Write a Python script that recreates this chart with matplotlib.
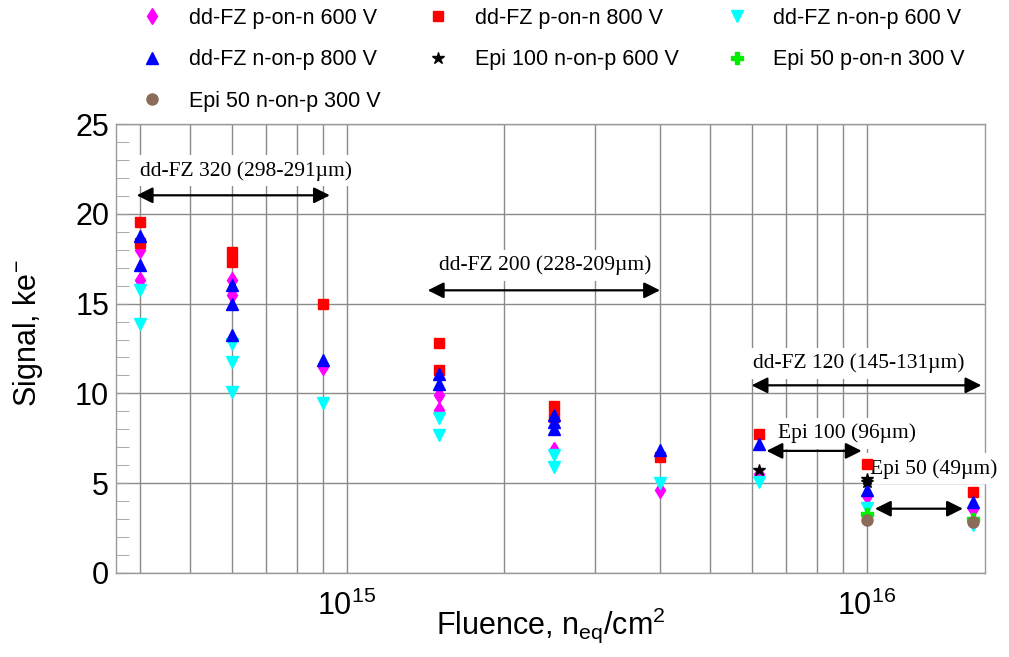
import matplotlib
matplotlib.use("Agg")
import matplotlib.pyplot as plt
from matplotlib.ticker import LogLocator, MultipleLocator, NullFormatter, LogFormatterSciNotation

# ---------------- data ----------------
fz_pn600_x = [4e14, 4e14, 6e14, 6e14, 9e14, 1.5e15, 1.5e15, 2.5e15, 4e15, 6.2e15, 1e16, 1.6e16]
fz_pn600_y = [18.0, 16.33, 16.3, 15.46, 11.47, 9.9, 9.06, 6.87, 4.6, 5.53, 4.27, 3.58]

fz_pn800_x = [4e14, 4e14, 6e14, 6e14, 9e14, 1.5e15, 1.5e15, 2.5e15, 2.5e15, 4e15, 6.2e15, 1e16, 1.6e16]
fz_pn800_y = [19.54, 18.37, 17.87, 17.32, 15.0, 12.83, 11.32, 9.28, 8.7, 6.46, 7.76, 6.09, 4.51]

fz_np600_x = [4e14, 4e14, 6e14, 6e14, 6e14, 9e14, 1.5e15, 1.5e15, 2.5e15, 2.5e15, 4e15, 6.2e15, 1e16, 1.6e16]
fz_np600_y = [15.78, 13.88, 12.77, 11.75, 10.08, 9.45, 8.65, 7.67, 6.55, 5.9, 5.01, 5.07, 3.64, 2.66]

fz_np800_x = [4e14, 4e14, 6e14, 6e14, 6e14, 9e14, 1.5e15, 1.5e15, 2.5e15, 2.5e15, 2.5e15, 4e15, 6.2e15, 1e16, 1.6e16]
fz_np800_y = [18.74, 17.13, 16.02, 15.0, 13.23, 11.85, 11.1, 10.55, 8.78, 8.41, 8.04, 6.83, 7.2, 4.64, 3.95]

epi100_np600_x = [6.2e15, 1e16, 1e16]
epi100_np600_y = [5.72, 5.26, 5.05]

epi50_pn300_x = [1e16, 1.6e16]
epi50_pn300_y = [3.31, 3.03]

epi50_np300_x = [1e16, 1.6e16]
epi50_np300_y = [2.97, 2.84]

labels = ["dd-FZ p-on-n 600 V", "dd-FZ p-on-n 800 V", "dd-FZ n-on-p 600 V",
          "dd-FZ n-on-p 800 V", "Epi 100 n-on-p 600 V", "Epi 50 p-on-n 300 V",
          "Epi 50 n-on-p 300 V"]

# thickness annotations: (text, x_from, x_to, y_arrow, x_text, y_text)
ann_texts = ["dd-FZ 320 (298-291\u00b5m)", "dd-FZ 200 (228-209\u00b5m)",
             "dd-FZ 120 (145-131\u00b5m)", "Epi 100 (96\u00b5m)", "Epi 50 (49\u00b5m)"]
ann_from = [3.94e14, 1.43e15, 6.0e15, 6.41e15, 1.036e16]
ann_to = [9.27e14, 4.0e15, 1.66e16, 9.77e15, 1.53e16]
ann_y = [21.03, 15.74, 10.45, 6.8, 3.58]
ann_tx = [4.0e14, 1.5e15, 6.05e15, 6.75e15, 1.012e16]
ann_ty = [22.4, 17.13, 11.66, 7.76, 5.81]

# ---------------- figure ----------------
plt.rcParams['font.family'] = ['Liberation Sans', 'DejaVu Sans']
plt.rcParams['mathtext.fontset'] = 'custom'
plt.rcParams['mathtext.rm'] = 'Liberation Sans'
plt.rcParams['mathtext.it'] = 'Liberation Sans'

fig = plt.figure(figsize=(10.09, 6.57), dpi=100)
ax = fig.add_axes([116/1009, 1-573/657, (985-116)/1009, (573-124)/657])

ax.set_xscale('log')
ax.set_xlim(3.595e14, 1.687e16)
ax.set_ylim(0, 25)

gridc = '#8a8a8a'
ax.xaxis.set_major_locator(LogLocator(base=10, numticks=10))
ax.xaxis.set_minor_locator(LogLocator(base=10, subs=range(2, 10), numticks=100))
ax.xaxis.set_minor_formatter(NullFormatter())
ax.xaxis.set_major_formatter(LogFormatterSciNotation())
ax.yaxis.set_major_locator(MultipleLocator(5))
ax.yaxis.set_minor_locator(MultipleLocator(1))
ax.grid(True, which='both', axis='x', color=gridc, lw=1.0)
ax.grid(True, which='major', axis='y', color=gridc, lw=1.0)
ax.set_axisbelow(True)
for s in ax.spines.values():
    s.set_color('#9a9a9a')
    s.set_linewidth(1.0)
ax.tick_params(axis='x', which='both', length=0, labelsize=22, pad=13)
ax.tick_params(axis='y', which='both', direction='in', length=9, color='#9a9a9a',
               labelsize=22, pad=5)

styles = [
    dict(marker='d', color='#ff00ff', ms=8.5),
    dict(marker='s', color='#ff0000', ms=7.5),
    dict(marker='v', color='#00ffff', ms=9),
    dict(marker='^', color='#0000ff', ms=9),
    dict(marker='*', color='#000000', ms=9),
    dict(marker='P', color='#00ee00', ms=8),
    dict(marker='o', color='#8b6b5a', ms=8),
]
series = [(fz_pn600_x, fz_pn600_y), (fz_pn800_x, fz_pn800_y), (fz_np600_x, fz_np600_y),
          (fz_np800_x, fz_np800_y), (epi100_np600_x, epi100_np600_y),
          (epi50_pn300_x, epi50_pn300_y), (epi50_np300_x, epi50_np300_y)]
handles = []
for i, ((xs, ys), st, lab) in enumerate(zip(series, styles, labels)):
    h, = ax.plot(xs, ys, ls='none', marker=st['marker'], color=st['color'],
                 mec=st['color'], ms=st['ms'], label=lab, zorder=5 + i)
    handles.append(h)

# annotations
for t, x0, x1, ya, tx, ty in zip(ann_texts, ann_from, ann_to, ann_y, ann_tx, ann_ty):
    ax.annotate('', xy=(x1, ya), xytext=(x0, ya),
                arrowprops=dict(arrowstyle='<|-|>', color='black', lw=1.6,
                                mutation_scale=24, shrinkA=0, shrinkB=0),
                zorder=4, annotation_clip=False)
    ax.text(tx, ty, t, family=['Liberation Serif', 'DejaVu Serif'], fontsize=15.5,
            va='center', ha='left', zorder=3, clip_on=False,
            bbox=dict(facecolor='white', edgecolor='none', pad=4))

ax.set_xlabel('Fluence, n$_{\\mathregular{eq}}$/cm$^{\\mathregular{2}}$', fontsize=22)
ax.xaxis.set_label_coords(0.5, -0.072)
fig.text(28/1009, 1-333/657, 'Signal, ke$^{\\mathregular{-}}$', rotation=90,
         fontsize=22, ha='center', va='center')

order = [0, 3, 6, 1, 4, 2, 5]
fig.legend([handles[i] for i in order], [labels[i] for i in order], ncol=3,
           loc='upper left', bbox_to_anchor=(139/1009, 1-8/657), frameon=False,
           fontsize=15.5, handlelength=1.2, handletextpad=1.1, columnspacing=2.1,
           labelspacing=0.95, borderpad=0, borderaxespad=0)

fig.savefig('out.png', dpi=100)
